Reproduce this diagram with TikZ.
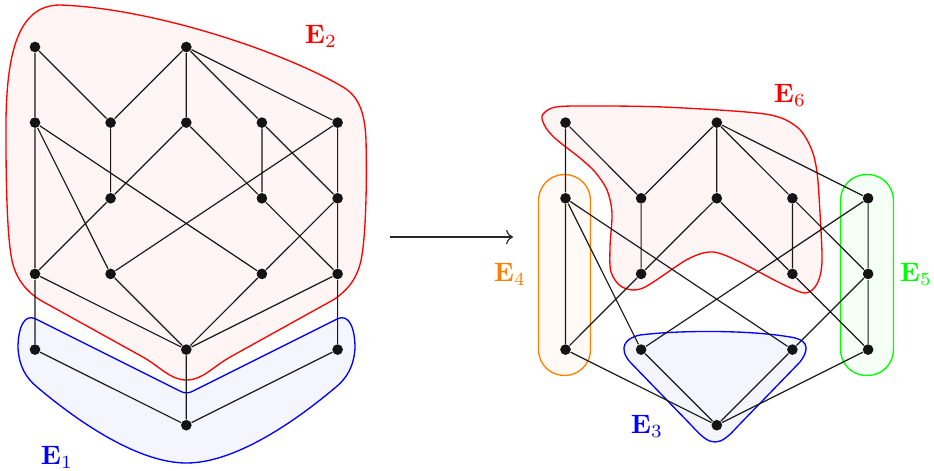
\documentclass[tikz,border=0pt]{standalone}
\usetikzlibrary{arrows.meta}
\begin{document}
\begin{tikzpicture}[x=0.013221cm, y=-0.013221cm,
  vtx/.style={circle, fill=black!92, inner sep=0pt, minimum size=4pt},
  edge/.style={line width=0.45pt, black!90},
  hyper/.style={line width=0.5pt},
  lab/.style={inner sep=0pt}]
\useasboundingbox (0,0) rectangle (934,470);

% ---------- hyperedges ----------
% E2 (left, red)
\draw[hyper, draw=red, fill=red!4]
  (60,5) .. controls (150,8) and (280,50) .. (343,87)
  .. controls (360,97) and (365,115) .. (366,140)
  .. controls (367,180) and (366,230) .. (362,255)
  .. controls (359,275) and (350,289) .. (333,300)
  -- (232,356) .. controls (212,367) and (203,380) .. (186.5,380)
  .. controls (170,380) and (161,367) .. (141,356)
  -- (40,300)
  .. controls (23,289) and (14,275) .. (11,255)
  .. controls (7,230) and (6,180) .. (6,140)
  .. controls (5,60) and (15,5) .. (60,5) -- cycle;
% E1 (left, blue)
\draw[hyper, draw=blue, fill=blue!4]
  (36,319) -- (180,391) .. controls (184,393.5) and (189,393.5) .. (193,391) -- (337,319)
  .. controls (349,313) and (355,328) .. (355,348)
  .. controls (354,366) and (347,378) .. (336,387)
  .. controls (291,425) and (233,463) .. (186.5,463)
  .. controls (140,463) and (82,425) .. (37,387)
  .. controls (26,378) and (19,366) .. (18,348)
  .. controls (18,328) and (24,313) .. (36,319) -- cycle;
% E6 (right, red)
\draw[hyper, draw=red, fill=red!4] plot[smooth cycle, tension=0.5] coordinates {
 (542,116) (552,108) (575,106) (663,107) (765,114) (797,127) (811,148) (817,172)
 (820,213) (822,262) (817,284) (805,293) (780,283) (740,262) (713,252) (688,259)
 (643,288) (622,287) (611,272) (610,247) (612,213) (607,190) (595,172) (580,158)
 (557,140) (546,128)};
% E4 (orange)
\draw[hyper, draw=orange, fill=orange!4, rounded corners=9.7pt] (538.5,174.5) rectangle (590.5,375.5);
% E5 (green)
\draw[hyper, draw=green, fill=green!4, rounded corners=9.7pt] (840.5,174.5) rectangle (893.5,375.5);
% E3 (blue)
\draw[hyper, draw=blue, fill=blue!4]
  (640,335) .. controls (680,330) and (750,330) .. (790,337)
  .. controls (805,339) and (812,346) .. (800,362)
  -- (738,426) .. controls (728,437) and (722,442) .. (715,442)
  .. controls (708,442) and (702,437) .. (692,426)
  -- (630,362) .. controls (618,348) and (625,338) .. (640,335) -- cycle;

% ---------- left graph ----------
\node[vtx] (a) at (35,47) {};
\node[vtx] (b) at (186.3,47) {};
\node[vtx] (c) at (35,122.6) {};
\node[vtx] (d) at (110.6,122.6) {};
\node[vtx] (e) at (186.3,122.6) {};
\node[vtx] (f) at (261.9,122.6) {};
\node[vtx] (g) at (337.6,122.6) {};
\node[vtx] (h) at (110.6,198.3) {};
\node[vtx] (i) at (261.9,198.3) {};
\node[vtx] (j) at (337.6,198.3) {};
\node[vtx] (k) at (35,273.9) {};
\node[vtx] (l) at (110.6,273.9) {};
\node[vtx] (m) at (261.9,273.9) {};
\node[vtx] (n) at (337.6,273.9) {};
\node[vtx] (o) at (35,349.6) {};
\node[vtx] (p) at (186.3,349.6) {};
\node[vtx] (q) at (337.6,349.6) {};
\node[vtx] (r) at (186.3,425.2) {};

\draw[edge] (a)--(c) (a)--(d) (b)--(d) (b)--(e) (b)--(f) (b)--(g)
  (c)--(k) (c)--(l) (c)--(m) (d)--(h) (e)--(h) (e)--(i) (f)--(i) (f)--(j)
  (g)--(j) (g)--(l) (h)--(k) (i)--(n) (j)--(m) (j)--(n)
  (k)--(o) (k)--(p) (l)--(p) (m)--(p) (n)--(p) (n)--(q)
  (o)--(r) (p)--(r) (q)--(r);

% ---------- right graph ----------
\node[vtx] (A) at (565.5,122.6) {};
\node[vtx] (B) at (716.8,122.6) {};
\node[vtx] (C) at (565.5,198.3) {};
\node[vtx] (D) at (641.1,198.3) {};
\node[vtx] (E) at (716.8,198.3) {};
\node[vtx] (F) at (792.4,198.3) {};
\node[vtx] (G) at (868.1,198.3) {};
\node[vtx] (H) at (641.1,273.9) {};
\node[vtx] (I) at (792.4,273.9) {};
\node[vtx] (J) at (868.1,273.9) {};
\node[vtx] (K) at (565.5,349.6) {};
\node[vtx] (L) at (641.1,349.6) {};
\node[vtx] (M) at (792.4,349.6) {};
\node[vtx] (N) at (868.1,349.6) {};
\node[vtx] (O) at (716.8,425.2) {};

\draw[edge] (A)--(C) (A)--(D) (B)--(D) (B)--(E) (B)--(F) (B)--(G)
  (C)--(K) (C)--(L) (C)--(M) (D)--(H) (E)--(H) (E)--(I) (F)--(I) (F)--(J)
  (G)--(J) (G)--(L) (H)--(K) (I)--(N) (J)--(M) (J)--(N)
  (K)--(O) (L)--(O) (M)--(O) (N)--(O);

% ---------- arrow ----------
\coordinate (s) at (390,237);
\coordinate (t) at (513,237);
\draw[line width=0.45pt, black!85, ->] (s) -- (t);

% ---------- labels ----------
\node[lab, text=red]    (l2) at (321,36)  {$\mathbf{E}_2$};
\node[lab, text=blue]   (l1) at (57,457)  {$\mathbf{E}_1$};
\node[lab, text=orange] (l4) at (510,274) {$\mathbf{E}_4$};
\node[lab, text=green]  (l5) at (916,274) {$\mathbf{E}_5$};
\node[lab, text=red]    (l6) at (790,95)  {$\mathbf{E}_6$};
\node[lab, text=blue]   (l3) at (647,426) {$\mathbf{E}_3$};
\end{tikzpicture}
\end{document}
